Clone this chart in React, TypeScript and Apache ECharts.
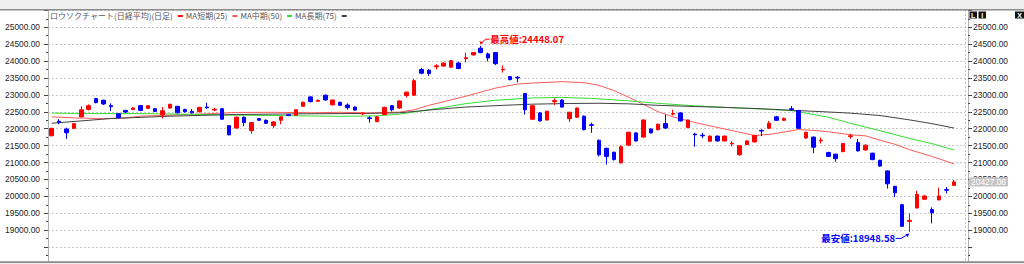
import React, { useEffect, useRef } from "react";
import * as echarts from "echarts";

// trading days (category axis)
const dates: string[] = [
  "2018/07/09","2018/07/10","2018/07/11","2018/07/12","2018/07/13","2018/07/17","2018/07/18","2018/07/19","2018/07/20","2018/07/23",
  "2018/07/24","2018/07/25","2018/07/26","2018/07/27","2018/07/30","2018/07/31","2018/08/01","2018/08/02","2018/08/03","2018/08/06",
  "2018/08/07","2018/08/08","2018/08/09","2018/08/10","2018/08/13","2018/08/14","2018/08/15","2018/08/16","2018/08/17","2018/08/20",
  "2018/08/21","2018/08/22","2018/08/23","2018/08/24","2018/08/27","2018/08/28","2018/08/29","2018/08/30","2018/08/31","2018/09/03",
  "2018/09/04","2018/09/05","2018/09/06","2018/09/07","2018/09/10","2018/09/11","2018/09/12","2018/09/13","2018/09/14","2018/09/18",
  "2018/09/19","2018/09/20","2018/09/21","2018/09/25","2018/09/26","2018/09/27","2018/09/28","2018/10/01","2018/10/02","2018/10/03",
  "2018/10/04","2018/10/05","2018/10/09","2018/10/10","2018/10/11","2018/10/12","2018/10/15","2018/10/16","2018/10/17","2018/10/18",
  "2018/10/19","2018/10/22","2018/10/23","2018/10/24","2018/10/25","2018/10/26","2018/10/29","2018/10/30","2018/10/31","2018/11/01",
  "2018/11/02","2018/11/05","2018/11/06","2018/11/07","2018/11/08","2018/11/09","2018/11/12","2018/11/13","2018/11/14","2018/11/15",
  "2018/11/16","2018/11/19","2018/11/20","2018/11/21","2018/11/22","2018/11/26","2018/11/27","2018/11/28","2018/11/29","2018/11/30",
  "2018/12/03","2018/12/04","2018/12/05","2018/12/06","2018/12/07","2018/12/10","2018/12/11","2018/12/12","2018/12/13","2018/12/14",
  "2018/12/17","2018/12/18","2018/12/19","2018/12/20","2018/12/21","2018/12/25","2018/12/26","2018/12/27","2018/12/28","2019/01/04",
  "2019/01/07","2019/01/08","2019/01/09",
];

// [open, close, low, high]
const ohlc: number[][] = [
  [21790,22010,21780,22030],[22220,22190,22130,22280],[21990,21880,21700,22030],[22010,22150,21990,22170],[22350,22560,22330,22660],
  [22570,22680,22540,22720],[22890,22770,22750,22910],[22840,22730,22700,22860],[22680,22650,22520,22750],[22440,22330,22300,22460],
  [22540,22490,22460,22560],[22570,22610,22550,22630],[22680,22540,22520,22700],[22600,22680,22580,22700],[22590,22510,22490,22610],
  [22420,22530,22300,22640],[22610,22720,22590,22740],[22660,22470,22450,22680],[22570,22500,22480,22590],[22510,22470,22450,22580],
  [22500,22630,22480,22650],[22640,22620,22590,22770],[22550,22570,22520,22620],[22590,22280,22260,22610],[22090,21820,21800,22100],
  [22020,22340,22000,22360],[22340,22180,22070,22360],[21940,22180,21850,22200],[22300,22250,22230,22320],[22250,22160,22140,22270],
  [22090,22200,22020,22220],[22250,22350,22130,22370],[22410,22390,22370,22430],[22400,22560,22380,22580],[22660,22780,22640,22800],
  [22940,22800,22780,22960],[22810,22840,22790,22860],[22990,22850,22830,23010],[22705,22848,22690,22860],[22780,22690,22670,22800],
  [22700,22620,22560,22750],[22640,22550,22530,22660],[22440,22460,22400,22480],[22320,22300,22180,22370],[22210,22350,22190,22370],
  [22420,22630,22400,22650],[22680,22560,22510,22700],[22610,22820,22590,22840],[22980,23080,22920,23100],[22990,23420,22970,23470],
  [23750,23640,23610,23800],[23730,23630,23560,23760],[23830,23860,23750,23910],[23850,23940,23830,23960],[23820,24010,23800,24030],
  [23940,23780,23760,23980],[24070,24100,23960,24250],[24180,24250,24160,24270],[24380,24250,24230,24448.07],[24210,24090,23990,24250],
  [24250,23920,23880,24270],[23740,23760,23660,23870],[23540,23450,23430,23560],[23520,23500,23370,23560],[23040,22560,22420,23060],
  [22280,22680,22260,22700],[22467,22230,22210,22490],[22257,22514,22240,22530],[22800,22830,22700,22900],[22848,22638,22620,22870],
  [22295,22486,22200,22500],[22340,22610,22320,22630],[22371,21971,21950,22390],[22120,22100,21880,22180],[21657,21228,21180,21680],
  [21419,21181,20943,21440],[21305,21086,21060,21320],[20990,21467,20970,21510],[21514,21895,21500,21910],[21876,21638,21620,21890],
  [21752,22257,21730,22270],[21990,21876,21860,22010],[21971,22133,21950,22150],[22152,22019,21990,22419],[22430,22450,22390,22560],
  [22467,22229,22210,22490],[22038,22257,22010,22270],[21840,21820,21467,21880],[21810,21790,21720,21880],[21629,21781,21610,21800],
  [21781,21638,21620,21800],[21638,21781,21620,21800],[21550,21570,21480,21630],[21228,21495,21200,21510],[21533,21638,21510,21660],
  [21610,21800,21590,21820],[21950,21930,21780,21980],[22010,22162,21990,22230],[22352,22248,22230,22380],[22248,22305,22230,22330],
  [22590,22570,22530,22670],[22533,22010,21990,22560],[21724,21895,21700,21910],[21752,21452,21276,21770],[21640,21660,21560,21740],
  [21295,21181,21160,21320],[21247,21114,21020,21260],[21324,21562,21300,21580],[21770,21790,21700,21850],[21590,21343,21330,21700],
  [21371,21514,21350,21530],[21276,21086,21070,21290],[21067,20895,20870,21080],[20752,20371,20229,20770],[20295,20105,19980,20310],
  [19752,19114,19100,19780],[19260,19290,18948.58,19495],[19657,20057,19640,20162],[19914,20010,19890,20030],[19610,19514,19200,19676],
  [19895,20010,19880,20257],[20200,20181,20086,20276],[20324,20427.06,20310,20486],
];

// moving averages: [day index, value]
const ma25: number[][] = [
  [0,22350],[3,22320],[7,22295],[10,22320],[12,22370],[16,22400],[21,22440],[25,22480],[30,22485],[35,22470],
  [39,22485],[43,22465],[47,22490],[49,22560],[51,22690],[56,22960],[60,23200],[63,23320],[65,23350],[69,23390],
  [72,23360],[74,23280],[76,23130],[78,22930],[80,22720],[82,22500],[84,22350],[87,22180],[91,21990],[95,21800],
  [97,21830],[99,21900],[101,21975],[103,21950],[105,21910],[108,21820],[110,21790],[112,21660],[114,21540],[116,21380],
  [119,21180],[122,20960],
];
const ma50: number[][] = [
  [0,22460],[5,22448],[12,22445],[21,22420],[25,22400],[30,22390],[39,22365],[44,22380],[47,22430],[51,22560],
  [56,22740],[60,22840],[65,22910],[69,22925],[73,22895],[78,22825],[82,22750],[87,22675],[91,22630],[96,22580],
  [100,22535],[102,22460],[105,22340],[108,22160],[112,21940],[116,21710],[119,21560],[122,21370],
];
const ma75: number[][] = [
  [0,22160],[8,22300],[16,22370],[25,22420],[34,22440],[42,22450],[47,22470],[52,22570],[56,22640],[61,22690],
  [65,22725],[70,22745],[74,22752],[78,22735],[82,22690],[87,22655],[91,22630],[96,22590],[100,22545],[104,22505],
  [108,22460],[112,22390],[116,22260],[119,22150],[122,22020],
];

const yLabelValues: number[] = [19000,19500,20000,20500,21000,21500,22000,22500,23000,23500,24000,24500,25000];

const seriesNames = ["ロウソクチャート(日経平均)(日足)", "MA短期(25)", "MA中期(50)", "MA長期(75)"];
const seriesColors = ["#ff0000", "#ff5a5a", "#33dd33", "#404040"];

const UP = "#ff0000";
const DOWN = "#0000ff";
const AXIS_FONT = "'Liberation Sans', Arial, sans-serif";
const JP_FONT = "'Noto Sans CJK JP', sans-serif";

export default function App() {
  const ref = useRef<HTMLDivElement>(null);

  useEffect(() => {
    document.body.style.margin = "0";
    document.documentElement.style.overflow = "hidden";
    const el = ref.current!;
    const chart = echarts.init(el, null, { renderer: "svg" });

    const lastClose = ohlc[ohlc.length - 1][1];
    const yearIdx = dates.findIndex((d) => d.startsWith("2019"));

    const labelFmt = (v: number) => (yLabelValues.indexOf(v) >= 0 ? v.toFixed(2) : "");

    const yBase = {
      type: "value",
      min: 18000,
      max: 25500,
      interval: 500,
      axisLine: { show: true, lineStyle: { color: "#b0b0b0", width: 1 } },
      axisTick: { show: true, length: 4, lineStyle: { color: "#444" } },
      minorTick: { show: true, splitNumber: 2, length: 2, lineStyle: { color: "#444" } },
      minorSplitLine: { show: false },
    };

    const lineSeries = [ma25, ma50, ma75].map((d, i) => ({
      type: "line",
      name: seriesNames[i + 1],
      data: d,
      color: seriesColors[i + 1],
      symbol: "none",
      smooth: false,
      lineStyle: { width: 1, color: seriesColors[i + 1] },
      z: 1,
      silent: true,
    }));

    chart.setOption({
      animation: false,
      grid: { left: 48, top: 10.3, right: 58.9, bottom: -10.3 },
      legend: {
        left: 50,
        top: 12,
        padding: 0,
        align: "right",
        itemWidth: 5,
        itemHeight: 2,
        itemGap: 3,
        selectedMode: false,
        itemStyle: { borderWidth: 0 },
        lineStyle: { width: 0 },
        textStyle: { fontSize: 8, color: "#555", fontFamily: JP_FONT },
        data: seriesNames.map((n, i) => ({
          name: n,
          icon: "rect",
          itemStyle: { color: seriesColors[i], borderWidth: 0 },
        })),
      },
      xAxis: {
        type: "category",
        data: [...dates, ""],
        boundaryGap: true,
        axisLine: { show: false },
        axisTick: { show: false },
        axisLabel: { show: false },
        splitLine: {
          show: true,
          interval: (i: number) => i === yearIdx,
          lineStyle: { color: "#bbbbbb", type: [2, 2] },
        },
      },
      yAxis: [
        {
          ...yBase,
          position: "left",
          axisLabel: { formatter: labelFmt, fontSize: 8.4, color: "#222", margin: 8, fontFamily: AXIS_FONT },
          splitLine: { show: true, lineStyle: { color: "#c8c8c8", type: [2, 2] } },
        },
        {
          ...yBase,
          position: "right",
          offset: 3,
          axisLabel: { formatter: labelFmt, fontSize: 8.4, color: "#222", margin: 5, fontFamily: AXIS_FONT },
          splitLine: { show: false },
        },
      ],
      series: [
        ...lineSeries,
        {
          type: "candlestick",
          name: seriesNames[0],
          data: ohlc,
          barWidth: 4,
          z: 3,
          silent: true,
          itemStyle: { color: UP, color0: DOWN, borderColor: UP, borderColor0: DOWN, borderWidth: 1 },
          markLine: {
            silent: true,
            symbol: ["none", "none"],
            data: [{ yAxis: lastClose }],
            lineStyle: { color: "transparent", width: 0 },
            label: {
              show: true,
              position: "end",
              distance: 4,
              formatter: lastClose.toFixed(2),
              color: "#ffffff",
              backgroundColor: "#c4c4c4",
              padding: [1, 2, 0, 2],
              fontSize: 8.4,
              lineHeight: 8,
              fontFamily: AXIS_FONT,
            },
          },
        },
      ],
    });

    // extremes
    let hiIdx = 0, loIdx = 0;
    ohlc.forEach((r, i) => {
      if (r[3] > ohlc[hiIdx][3]) hiIdx = i;
      if (r[2] < ohlc[loIdx][2]) loIdx = i;
    });
    const hiVal = ohlc[hiIdx][3];
    const loVal = ohlc[loIdx][2];
    const hp = chart.convertToPixel({ gridIndex: 0 }, [hiIdx, hiVal]) as number[];
    const lp = chart.convertToPixel({ gridIndex: 0 }, [loIdx, loVal]) as number[];

    const annFont = `bold 9.5px ${JP_FONT}`;
    chart.setOption({
      graphic: {
        elements: [
          { type: "rect", shape: { x: 0, y: 0, width: 1024, height: 9 }, style: { fill: "#efefef" }, z: 100 },
          { type: "rect", shape: { x: 0, y: 9, width: 1024, height: 1.5 }, style: { fill: "#8c8c8c" }, z: 100 },
          { type: "rect", shape: { x: 0, y: 261.3, width: 1024, height: 1.7 }, style: { fill: "#8c8c8c" }, z: 100 },
          { type: "rect", shape: { x: 0, y: 263, width: 1024, height: 1 }, style: { fill: "#efefef" }, z: 100 },
          // window buttons
          { type: "rect", shape: { x: 969.5, y: 11.5, width: 7.5, height: 7 }, style: { fill: "#111" }, z: 100 },
          { type: "rect", shape: { x: 978.5, y: 11.5, width: 7.5, height: 7 }, style: { fill: "#111" }, z: 100 },
          { type: "rect", shape: { x: 1015, y: 11.5, width: 9, height: 7 }, style: { fill: "#111" }, z: 100 },
          { type: "text", x: 973.2, y: 15, style: { text: "L", fill: "#fff", font: `bold 7px ${AXIS_FONT}`, align: "center", verticalAlign: "middle" }, z: 101 },
          { type: "text", x: 982.2, y: 15, style: { text: "I", fill: "#fff", font: `bold 7px ${AXIS_FONT}`, align: "center", verticalAlign: "middle" }, z: 101 },
          { type: "text", x: 1019.5, y: 15, style: { text: "X", fill: "#fff", font: `bold 7px ${AXIS_FONT}`, align: "center", verticalAlign: "middle" }, z: 101 },
          // high annotation
          {
            type: "polyline",
            shape: { points: [[hp[0] + 9, hp[1] - 6.7], [hp[0] + 5, hp[1] - 6.7], [hp[0] + 1.5, hp[1] - 3.8]] },
            style: { stroke: UP, lineWidth: 1, fill: "none" },
            z: 50,
          },
          {
            type: "polygon",
            shape: { points: [[hp[0], hp[1] - 1.5], [hp[0] - 1.2, hp[1] - 4.8], [hp[0] + 2.8, hp[1] - 3.2]] },
            style: { fill: UP },
            z: 50,
          },
          {
            type: "text",
            x: hp[0] + 9.5,
            y: hp[1] - 6.7,
            style: { text: `最高値:${hiVal.toFixed(2)}`, fill: UP, font: annFont, align: "left", verticalAlign: "middle" },
            z: 50,
          },
          // low annotation
          {
            type: "polyline",
            shape: { points: [[lp[0] - 14, lp[1] + 6.5], [lp[0] - 8.5, lp[1] + 6.5], [lp[0] - 3, lp[1] + 3.2]] },
            style: { stroke: DOWN, lineWidth: 1, fill: "none" },
            z: 50,
          },
          {
            type: "polygon",
            shape: { points: [[lp[0] - 0.5, lp[1] + 1.5], [lp[0] - 4.2, lp[1] + 2.4], [lp[0] - 1.8, lp[1] + 5.3]] },
            style: { fill: DOWN },
            z: 50,
          },
          {
            type: "text",
            x: lp[0] - 14.5,
            y: lp[1] + 6.3,
            style: { text: `最安値:${loVal.toFixed(2)}`, fill: DOWN, font: annFont, align: "right", verticalAlign: "middle" },
            z: 50,
          },
        ],
      },
    });

    return () => chart.dispose();
  }, []);

  return <div ref={ref} style={{ width: 1024, height: 264 }} />;
}
